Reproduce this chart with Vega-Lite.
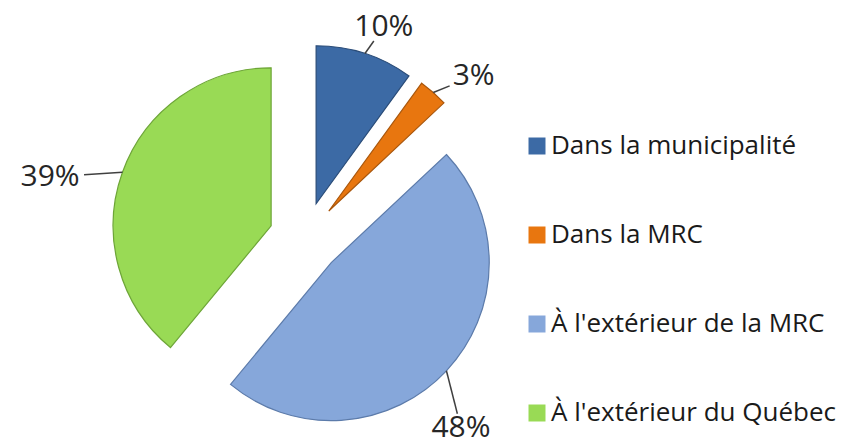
{
  "$schema": "https://vega.github.io/schema/vega-lite/v6.json",
  "width": 846,
  "height": 446,
  "autosize": "none",
  "padding": 0,
  "background": "white",
  "config": {"view": {"stroke": null}},
  "data": {
    "values": [
      {"categorie": "Dans la municipalité", "valeur": 10, "ordre": 1},
      {"categorie": "Dans la MRC", "valeur": 3, "ordre": 2},
      {"categorie": "À l'extérieur de la MRC", "valeur": 48, "ordre": 3},
      {"categorie": "À l'extérieur du Québec", "valeur": 39, "ordre": 4}
    ]
  },
  "transform": [
    {"window": [{"op": "sum", "field": "valeur", "as": "cum"}], "sort": [{"field": "ordre"}], "frame": [null, 0]},
    {"joinaggregate": [{"op": "sum", "field": "valeur", "as": "total"}]},
    {"calculate": "datum.cum - datum.valeur", "as": "debut"},
    {"calculate": "(datum.cum - datum.valeur / 2) / datum.total * 2 * PI", "as": "mid"},
    {"calculate": "36 * sin(datum.mid)", "as": "ox"},
    {"calculate": "-36 * cos(datum.mid)", "as": "oy"},
    {"calculate": "sin(datum.mid) * (255 - 60 * max(0, -cos(datum.mid)) + 17 * max(0, -sin(datum.mid)))", "as": "lx"},
    {"calculate": "22 - 245 * cos(datum.mid)", "as": "ly"},
    {"calculate": "194 * sin(datum.mid)", "as": "ax"},
    {"calculate": "-194 * cos(datum.mid)", "as": "ay"},
    {"calculate": "format(datum.valeur, 'd') + '%'", "as": "etiquette"},
    {"calculate": "datum.ax - datum.lx", "as": "ddx"},
    {"calculate": "datum.ay - datum.ly", "as": "ddy"},
    {"calculate": "min((10 * length(datum.etiquette) + 4) / max(abs(datum.ddx), 0.001), 14 / max(abs(datum.ddy), 0.001))", "as": "t"},
    {"calculate": "datum.lx + datum.ddx * datum.t", "as": "bx"},
    {"calculate": "datum.ly + datum.ddy * datum.t", "as": "by"},
    {"calculate": "sqrt(pow(datum.ddx, 2) + pow(datum.ddy, 2)) * (1 - datum.t)", "as": "seg"}
  ],
  "layer": [
    {
      "mark": {"type": "arc", "radius": 158, "strokeWidth": 1.2},
      "encoding": {
        "x": {"field": "ox", "type": "quantitative", "scale": {"domain": [-305, 541], "nice": false, "zero": false}, "axis": null},
        "y": {"field": "oy", "type": "quantitative", "scale": {"domain": [-238, 208], "range": [0, 446], "nice": false, "zero": false}, "axis": null},
        "theta": {"field": "debut", "type": "quantitative", "stack": null, "scale": {"domain": [0, 100], "range": [0, 6.283185307179586]}},
        "theta2": {"field": "cum"},
        "color": {
          "field": "categorie",
          "type": "nominal",
          "sort": ["Dans la municipalité", "Dans la MRC", "À l'extérieur de la MRC", "À l'extérieur du Québec"],
          "scale": {
            "domain": ["Dans la municipalité", "Dans la MRC", "À l'extérieur de la MRC", "À l'extérieur du Québec"],
            "range": ["#3C6AA5", "#E8760F", "#86A7DA", "#99DA55"]
          },
          "legend": {
            "orient": "none",
            "legendX": 524,
            "legendY": 133,
            "title": null,
            "padding": 0,
            "symbolType": "square",
            "symbolSize": 289,
            "symbolStrokeWidth": 0,
            "labelFont": "Open Sans",
            "labelFontSize": 26,
            "labelColor": "#1a1a1a",
            "labelOffset": 1,
            "rowPadding": 63,
            "labelLimit": 400
          }
        },
        "stroke": {
          "field": "categorie",
          "type": "nominal",
          "scale": {
            "domain": ["Dans la municipalité", "Dans la MRC", "À l'extérieur de la MRC", "À l'extérieur du Québec"],
            "range": ["#2A4C78", "#A9560B", "#5C7BAA", "#6DA537"]
          },
          "legend": null
        }
      }
    },
    {
      "transform": [{"filter": "datum.seg > 15"}],
      "mark": {"type": "rule", "color": "#404040", "strokeWidth": 1.5},
      "encoding": {
        "x": {"field": "ax", "type": "quantitative", "scale": {"domain": [-305, 541], "nice": false, "zero": false}, "axis": null},
        "y": {"field": "ay", "type": "quantitative", "scale": {"domain": [-238, 208], "range": [0, 446], "nice": false, "zero": false}, "axis": null},
        "x2": {"field": "bx"},
        "y2": {"field": "by"}
      }
    },
    {
      "mark": {"type": "text", "font": "Open Sans", "fontSize": 30, "color": "#262626", "align": "center", "baseline": "middle"},
      "encoding": {
        "x": {"field": "lx", "type": "quantitative", "scale": {"domain": [-305, 541], "nice": false, "zero": false}, "axis": null},
        "y": {"field": "ly", "type": "quantitative", "scale": {"domain": [-238, 208], "range": [0, 446], "nice": false, "zero": false}, "axis": null},
        "text": {"field": "etiquette", "type": "nominal"}
      }
    }
  ]
}
